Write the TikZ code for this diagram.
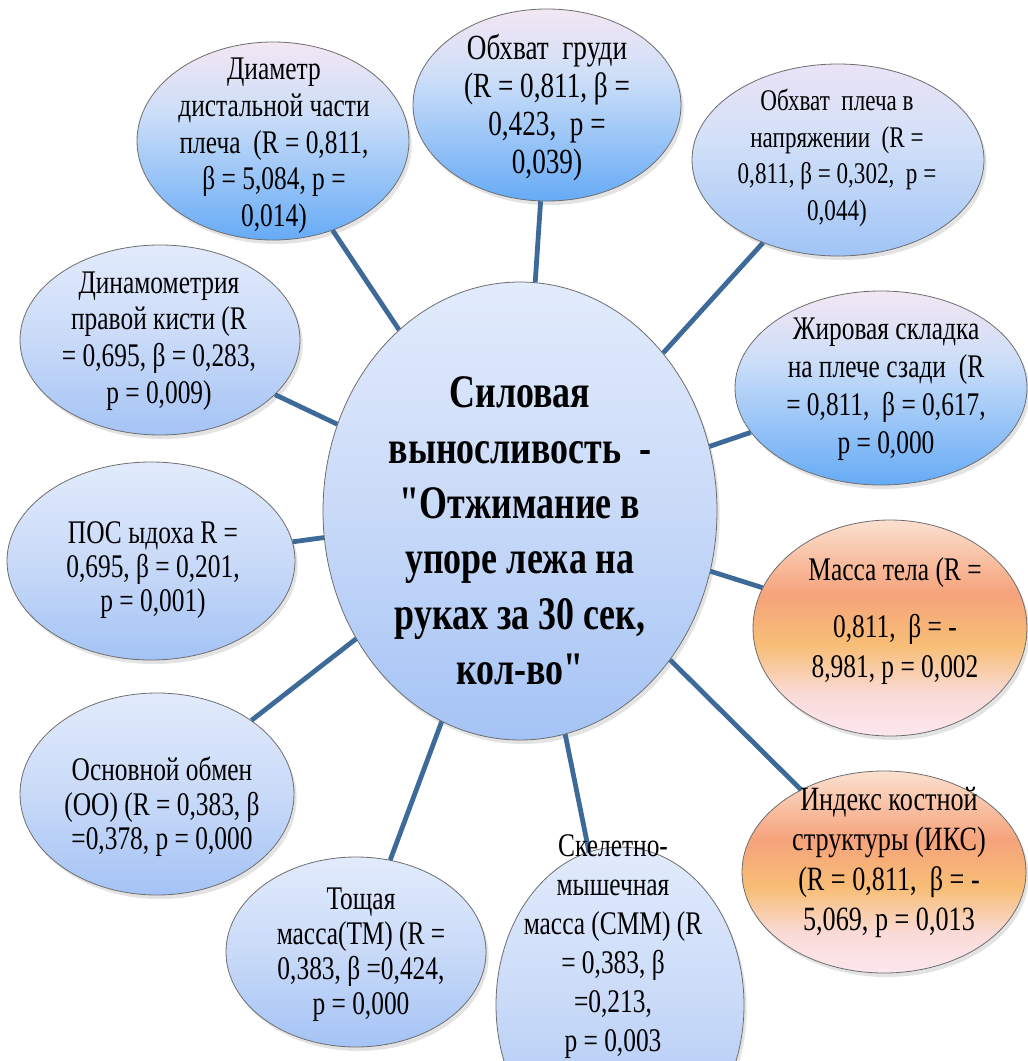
\documentclass[tikz,border=0pt]{standalone}
\usepackage{fontspec}
\newfontfamily\cnd[FakeStretch=0.77]{Liberation Serif}
\usetikzlibrary{shapes.geometric,shadows}

\definecolor{lnk}{HTML}{3D6A98}
\definecolor{edgec}{HTML}{6E6E6E}
% strong blue
\definecolor{bsA}{HTML}{F3E6F3}
\definecolor{bsB}{HTML}{CCDEF8}
\definecolor{bsC}{HTML}{66ABF6}
% medium blue
\definecolor{bmA}{HTML}{EAE3F6}
\definecolor{bmB}{HTML}{D2E0F8}
\definecolor{bmC}{HTML}{A0C4F6}
% light blue
\definecolor{blA}{HTML}{E2EBFC}
\definecolor{blB}{HTML}{C9DAF8}
\definecolor{blC}{HTML}{A4C3F5}
% orange
\definecolor{orA}{HTML}{FBE0D0}
\definecolor{orB}{HTML}{F6A37B}
\definecolor{orC}{HTML}{F7BE76}
\definecolor{orD}{HTML}{FADAD6}
\definecolor{orE}{HTML}{FBE7EE}

\pgfdeclareverticalshading{bstrong}{100bp}{color(0bp)=(bsC); color(25bp)=(bsC); color(57bp)=(bsB); color(75bp)=(bsA); color(100bp)=(bsA)}
\pgfdeclareverticalshading{bmid}{100bp}{color(0bp)=(bmC); color(25bp)=(bmC); color(55bp)=(bmB); color(75bp)=(bmA); color(100bp)=(bmA)}
\pgfdeclareverticalshading{blight}{100bp}{color(0bp)=(blC); color(25bp)=(blC); color(50bp)=(blB); color(75bp)=(blA); color(100bp)=(blA)}
\pgfdeclareverticalshading{orng}{100bp}{color(0bp)=(orE); color(25bp)=(orE); color(35bp)=(orD); color(46bp)=(orC); color(58bp)=(orB); color(75bp)=(orA); color(100bp)=(orA)}

\begin{document}
\begin{tikzpicture}[x=0.75pt,y=-0.75pt,
  ell/.style={ellipse, draw=edgec, line width=0.6pt, inner sep=0pt, shade, shading=#1,
    drop shadow={shadow xshift=2pt, shadow yshift=-3pt, opacity=0.22}},
  sz/.style 2 args={minimum width=#1*1.5pt, minimum height=#2*1.5pt},
  txt/.style={align=center, inner sep=0pt, font=\cnd\fontsize{24.75}{27.5}\selectfont},
  conn/.style={draw=lnk, line width=3.6pt}
]
\useasboundingbox (0,0) rectangle (1028,1061);
\clip (0,0) rectangle (1028,1061);
\fill[white] (0,0) rectangle (1028,1061);

% ellipses
\node[ell=blight, sz={197}{229}] (c) at (520,511) {};
\node[ell=bstrong, sz={136}{99}] (diam) at (273,141) {};
\node[ell=bstrong, sz={134}{96}] (grud) at (547,105) {};
\node[ell=bmid, sz={146}{96}] (plech) at (838,160) {};
\node[ell=bstrong, sz={146}{97}] (zhir) at (881,388) {};
\node[ell=orng, sz={137}{108}] (massa) at (890,628) {};
\node[ell=orng, sz={142}{101}] (iks) at (884,872) {};
\node[ell=blight, sz={124}{158}] (skel) at (620,1005) {};
\node[ell=blight, sz={130}{95}] (tosh) at (356,952) {};
\node[ell=blight, sz={137}{101}] (osn) at (157,794) {};
\node[ell=blight, sz={144}{99}] (pos) at (151,561) {};
\node[ell=blight, sz={140}{95}] (dinam) at (160,340) {};

% connectors
\foreach \n in {diam,grud,plech,zhir,massa,iks,skel,tosh,osn,pos,dinam}
  \draw[conn] (c) -- (\n);

% texts
\node[align=center, inner sep=0pt, font=\cnd\bfseries\fontsize{35}{41.5}\selectfont] (ct) at (520,531)
  {Силовая\\выносливость~ -\\"Отжимание в\\упоре лежа на\\руках за 30 сек,\\кол-во"};
\node[txt] (diamt) at (274,146) {Диаметр\\дистальной части\\плеча~ (R = 0,811,\\β = 5,084, p =\\0,014)};
\node[txt, font=\cnd\fontsize{26.5}{28.5}\selectfont] (grudt) at (547,108) {Обхват~ груди\\(R = 0,811, β =\\0,423,~ p =\\0,039)};
\node[txt, font=\cnd\fontsize{22.5}{27.5}\selectfont] (plecht) at (837,158) {Обхват~ плеча в\\напряжении~ (R =\\0,811, β = 0,302,~ p =\\0,044)};
\node[txt, font=\cnd\fontsize{24.75}{28.5}\selectfont] (zhirt) at (886,389) {Жировая складка\\на плече сзади~ (R\\= 0,811,~ β = 0,617,\\p = 0,000};
\node[txt, font=\cnd\fontsize{24.75}{30}\selectfont] (massat) at (895,621) {Масса тела (R =\\[12.75pt]0,811,~ β = -\\8,981, p = 0,002};
\node[txt, font=\cnd\fontsize{25.5}{30}\selectfont] (ikst) at (889,862) {Индекс костной\\структуры (ИКС)\\(R = 0,811,~ β = -\\5,069, p = 0,013};
\node[txt, font=\cnd\fontsize{24.75}{29.25}\selectfont] (skelt) at (613,947) {Скелетно-\\мышечная\\масса (СММ) (R\\= 0,383, β\\=0,213,\\p = 0,003};
\node[txt, font=\cnd\fontsize{24.75}{26.3}\selectfont] (tosht) at (361,955) {Тощая\\масса(ТМ) (R =\\0,383, β =0,424,\\p = 0,000};
\node[txt, font=\cnd\fontsize{24.75}{26}\selectfont] (osnt) at (162,807) {Основной обмен\\(ОО) (R = 0,383, β\\=0,378, p = 0,000};
\node[txt, font=\cnd\fontsize{24.75}{25.5}\selectfont] (post) at (153,570) {ПОС ыдоха R =\\0,695, β = 0,201,\\p = 0,001)};
\node[txt, font=\cnd\fontsize{24.75}{27.5}\selectfont] (dinamt) at (159,341) {Динамометрия\\правой кисти (R\\= 0,695, β = 0,283,\\p = 0,009)};
\end{tikzpicture}
\end{document}
